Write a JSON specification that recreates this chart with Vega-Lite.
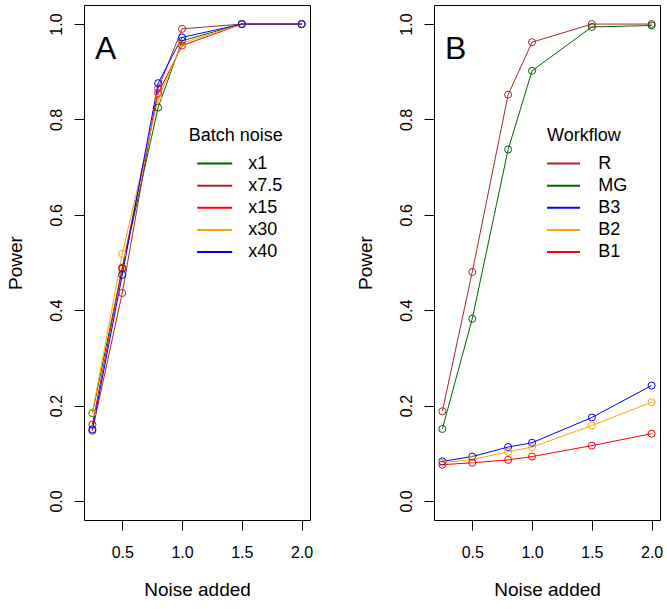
{
  "$schema": "https://vega.github.io/schema/vega-lite/v6.json",
  "padding": {"left": 5, "top": 4, "right": 5, "bottom": 5},
  "background": "white",
  "spacing": 41,
  "datasets": {
    "panelA": [
      {"noise": 0.25, "power": 0.184, "batch": "x1"},
      {"noise": 0.5, "power": 0.487, "batch": "x1"},
      {"noise": 0.8, "power": 0.825, "batch": "x1"},
      {"noise": 1.0, "power": 0.965, "batch": "x1"},
      {"noise": 1.5, "power": 1.0, "batch": "x1"},
      {"noise": 2.0, "power": 1.0, "batch": "x1"},
      {"noise": 0.25, "power": 0.147, "batch": "x7.5"},
      {"noise": 0.5, "power": 0.436, "batch": "x7.5"},
      {"noise": 0.8, "power": 0.865, "batch": "x7.5"},
      {"noise": 1.0, "power": 0.99, "batch": "x7.5"},
      {"noise": 1.5, "power": 1.0, "batch": "x7.5"},
      {"noise": 2.0, "power": 1.0, "batch": "x7.5"},
      {"noise": 0.25, "power": 0.16, "batch": "x15"},
      {"noise": 0.5, "power": 0.489, "batch": "x15"},
      {"noise": 0.8, "power": 0.855, "batch": "x15"},
      {"noise": 1.0, "power": 0.955, "batch": "x15"},
      {"noise": 1.5, "power": 1.0, "batch": "x15"},
      {"noise": 2.0, "power": 1.0, "batch": "x15"},
      {"noise": 0.25, "power": 0.185, "batch": "x30"},
      {"noise": 0.5, "power": 0.518, "batch": "x30"},
      {"noise": 0.8, "power": 0.843, "batch": "x30"},
      {"noise": 1.0, "power": 0.96, "batch": "x30"},
      {"noise": 1.5, "power": 1.0, "batch": "x30"},
      {"noise": 2.0, "power": 1.0, "batch": "x30"},
      {"noise": 0.25, "power": 0.15, "batch": "x40"},
      {"noise": 0.5, "power": 0.474, "batch": "x40"},
      {"noise": 0.8, "power": 0.876, "batch": "x40"},
      {"noise": 1.0, "power": 0.972, "batch": "x40"},
      {"noise": 1.5, "power": 1.0, "batch": "x40"},
      {"noise": 2.0, "power": 1.0, "batch": "x40"}
    ],
    "panelB": [
      {"noise": 0.25, "power": 0.188, "workflow": "R"},
      {"noise": 0.5, "power": 0.48, "workflow": "R"},
      {"noise": 0.8, "power": 0.852, "workflow": "R"},
      {"noise": 1.0, "power": 0.962, "workflow": "R"},
      {"noise": 1.5, "power": 1.0, "workflow": "R"},
      {"noise": 2.0, "power": 1.0, "workflow": "R"},
      {"noise": 0.25, "power": 0.151, "workflow": "MG"},
      {"noise": 0.5, "power": 0.382, "workflow": "MG"},
      {"noise": 0.8, "power": 0.737, "workflow": "MG"},
      {"noise": 1.0, "power": 0.902, "workflow": "MG"},
      {"noise": 1.5, "power": 0.994, "workflow": "MG"},
      {"noise": 2.0, "power": 0.997, "workflow": "MG"},
      {"noise": 0.25, "power": 0.083, "workflow": "B3"},
      {"noise": 0.5, "power": 0.093, "workflow": "B3"},
      {"noise": 0.8, "power": 0.113, "workflow": "B3"},
      {"noise": 1.0, "power": 0.122, "workflow": "B3"},
      {"noise": 1.5, "power": 0.175, "workflow": "B3"},
      {"noise": 2.0, "power": 0.242, "workflow": "B3"},
      {"noise": 0.25, "power": 0.08, "workflow": "B2"},
      {"noise": 0.5, "power": 0.087, "workflow": "B2"},
      {"noise": 0.8, "power": 0.103, "workflow": "B2"},
      {"noise": 1.0, "power": 0.113, "workflow": "B2"},
      {"noise": 1.5, "power": 0.158, "workflow": "B2"},
      {"noise": 2.0, "power": 0.207, "workflow": "B2"},
      {"noise": 0.25, "power": 0.076, "workflow": "B1"},
      {"noise": 0.5, "power": 0.08, "workflow": "B1"},
      {"noise": 0.8, "power": 0.086, "workflow": "B1"},
      {"noise": 1.0, "power": 0.093, "workflow": "B1"},
      {"noise": 1.5, "power": 0.116, "workflow": "B1"},
      {"noise": 2.0, "power": 0.141, "workflow": "B1"}
    ]
  },
  "hconcat": [
    {
      "width": 226,
      "height": 515,
      "data": {"name": "panelA"},
      "title": {"text": "A", "anchor": "start", "frame": "group", "orient": "top", "offset": 0, "dx": 11, "dy": 86, "baseline": "alphabetic", "fontSize": 32, "font": "Liberation Sans", "fontWeight": "normal", "color": "black"},
      "mark": {"type": "line", "strokeWidth": 1, "point": {"filled": false, "size": 50, "strokeWidth": 1}},
      "encoding": {
        "x": {"field": "noise", "type": "quantitative", "scale": {"domain": [0.18, 2.07], "nice": false, "zero": false}, "axis": {"title": "Noise added", "values": [0.5, 1, 1.5, 2]}},
        "y": {"field": "power", "type": "quantitative", "scale": {"domain": [-0.04, 1.04], "nice": false, "zero": false}, "axis": {"title": "Power", "values": [0, 0.2, 0.4, 0.6, 0.8, 1.0]}},
        "color": {"field": "batch", "type": "nominal",
          "scale": {"domain": ["x1", "x7.5", "x15", "x30", "x40"], "range": ["#006400", "#A52A2A", "#FF0000", "#FFA500", "#0000FF"]},
          "legend": {"title": "Batch noise", "orient": "none", "legendX": 104.7, "legendY": 121.6, "symbolOffset": 7.5, "labelOffset": 15}}
      }
    },
    {
      "width": 226,
      "height": 515,
      "data": {"name": "panelB"},
      "title": {"text": "B", "anchor": "start", "frame": "group", "orient": "top", "offset": 0, "dx": 11, "dy": 86, "baseline": "alphabetic", "fontSize": 32, "font": "Liberation Sans", "fontWeight": "normal", "color": "black"},
      "mark": {"type": "line", "strokeWidth": 1, "point": {"filled": false, "size": 50, "strokeWidth": 1}},
      "encoding": {
        "x": {"field": "noise", "type": "quantitative", "scale": {"domain": [0.18, 2.07], "nice": false, "zero": false}, "axis": {"title": "Noise added", "values": [0.5, 1, 1.5, 2]}},
        "y": {"field": "power", "type": "quantitative", "scale": {"domain": [-0.04, 1.04], "nice": false, "zero": false}, "axis": {"title": "Power", "values": [0, 0.2, 0.4, 0.6, 0.8, 1.0]}},
        "color": {"field": "workflow", "type": "nominal",
          "scale": {"domain": ["R", "MG", "B3", "B2", "B1"], "range": ["#A52A2A", "#006400", "#0000FF", "#FFA500", "#FF0000"]},
          "legend": {"title": "Workflow", "orient": "none", "legendX": 113, "legendY": 121.6, "symbolOffset": -3, "labelOffset": 17.3}}
      }
    }
  ],
  "resolve": {"scale": {"color": "independent", "x": "independent", "y": "independent"}},
  "config": {
    "font": "Liberation Sans",
    "view": {"stroke": "black", "strokeWidth": 1},
    "axis": {
      "domain": false, "grid": false, "tickSize": 10, "tickColor": "black", "tickWidth": 1,
      "labelFont": "Liberation Sans", "labelFontSize": 16, "labelColor": "black", "format": ".1f",
      "titleFont": "Liberation Sans", "titleFontSize": 19, "titleFontWeight": "normal", "titleColor": "black"
    },
    "axisX": {"labelBaseline": "alphabetic", "labelPadding": 27.4, "labelAngle": 0, "titleY": 75, "titleBaseline": "alphabetic"},
    "axisY": {"labelAngle": -90, "labelAlign": "center", "labelBaseline": "alphabetic", "labelPadding": 12.6, "titleAngle": -90, "titleX": -62.6, "titleBaseline": "alphabetic", "titleAlign": "center"},
    "legend": {
      "titleFont": "Liberation Sans", "titleFontSize": 18, "titleFontWeight": "normal", "titleColor": "black", "titlePadding": 10,
      "labelFont": "Liberation Sans", "labelFontSize": 18, "labelColor": "black",
      "symbolType": "stroke", "symbolStrokeWidth": 2, "symbolSize": 1225, "rowPadding": 4.1, "clipHeight": 18, "padding": 0
    }
  }
}
